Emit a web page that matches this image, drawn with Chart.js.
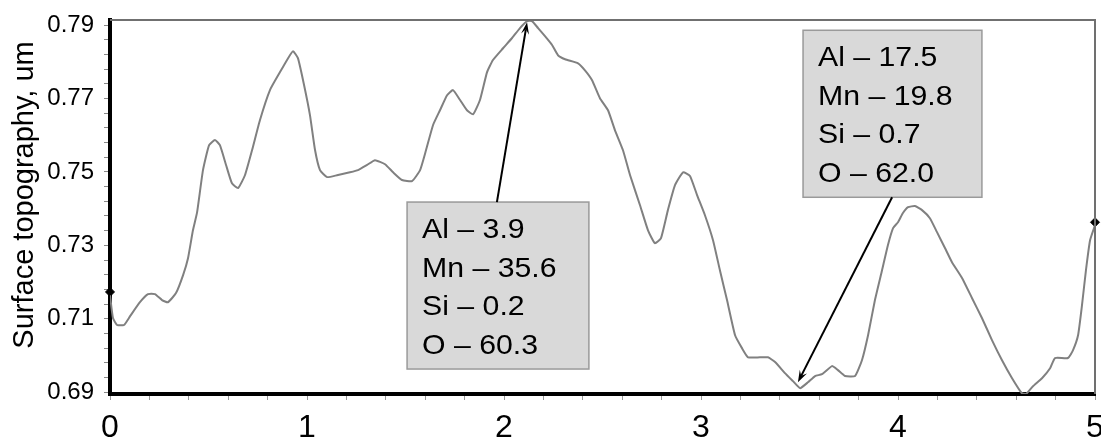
<!DOCTYPE html>
<html>
<head>
<meta charset="utf-8">
<title>Surface topography</title>
<script src="https://cdn.jsdelivr.net/npm/chart.js@4.4.1/dist/chart.umd.min.js"></script>
<style>
    body { margin: 0; background: #fff; }
    canvas { display: block; }
</style>
</head>
<body>
<canvas id="chartTopo" width="1101" height="437"></canvas>
<script>
// profile: position along the scan and surface height (um)
var posX = [0, 0.015, 0.036, 0.071, 0.102, 0.152, 0.193, 0.228, 0.264, 0.294,
    0.335, 0.371, 0.396, 0.421, 0.442, 0.472, 0.503, 0.533, 0.558, 0.589,
    0.619, 0.650, 0.685, 0.721, 0.761, 0.812, 0.863, 0.904, 0.929, 0.954,
    0.985, 1.015, 1.041, 1.066, 1.102, 1.152, 1.218, 1.259, 1.305, 1.345,
    1.396, 1.437, 1.482, 1.533, 1.574, 1.604, 1.640, 1.675, 1.711, 1.741,
    1.777, 1.812, 1.843, 1.878, 1.914, 1.944, 1.995, 2.041, 2.081, 2.117,
    2.142, 2.173, 2.208, 2.244, 2.274, 2.310, 2.376, 2.411, 2.447, 2.487,
    2.528, 2.563, 2.604, 2.640, 2.690, 2.731, 2.766, 2.797, 2.832, 2.868,
    2.909, 2.944, 2.980, 3.020, 3.061, 3.096, 3.132, 3.173, 3.208, 3.239,
    3.299, 3.340, 3.376, 3.426, 3.467, 3.503, 3.543, 3.579, 3.614, 3.665,
    3.695, 3.731, 3.782, 3.817, 3.848, 3.883, 3.919, 3.949, 3.975, 4.000,
    4.025, 4.051, 4.086, 4.122, 4.162, 4.198, 4.239, 4.274, 4.325, 4.376,
    4.426, 4.477, 4.528, 4.579, 4.629, 4.650, 4.685, 4.731, 4.772, 4.797,
    4.863, 4.888, 4.914, 4.934, 4.954, 4.975, 5.000];
var height = [0.7164, 0.7102, 0.7083, 0.7083, 0.7107, 0.7145, 0.7167, 0.7167, 0.7151, 0.7145,
    0.7170, 0.7219, 0.7265, 0.7341, 0.7390, 0.7505, 0.7573, 0.7587, 0.7573, 0.7519,
    0.7469, 0.7456, 0.7491, 0.7559, 0.7641, 0.7723, 0.7772, 0.7810, 0.7829, 0.7810,
    0.7737, 0.7655, 0.7559, 0.7505, 0.7486, 0.7491, 0.7499, 0.7505, 0.7519, 0.7532,
    0.7521, 0.7499, 0.7478, 0.7475, 0.7505, 0.7559, 0.7628, 0.7668, 0.7709, 0.7723,
    0.7696, 0.7668, 0.7657, 0.7696, 0.7772, 0.7805, 0.7837, 0.7865, 0.7892, 0.7911,
    0.7911, 0.7892, 0.7870, 0.7846, 0.7818, 0.7807, 0.7796, 0.7777, 0.7750, 0.7701,
    0.7668, 0.7614, 0.7559, 0.7491, 0.7410, 0.7341, 0.7306, 0.7320, 0.7396, 0.7464,
    0.7499, 0.7489, 0.7437, 0.7382, 0.7314, 0.7232, 0.7151, 0.7055, 0.7020, 0.6995,
    0.6995, 0.6995, 0.6982, 0.6952, 0.6930, 0.6911, 0.6927, 0.6944, 0.6949, 0.6971,
    0.6960, 0.6944, 0.6944, 0.6987, 0.7055, 0.7151, 0.7232, 0.7301, 0.7347, 0.7363,
    0.7388, 0.7404, 0.7407, 0.7396, 0.7374, 0.7336, 0.7292, 0.7254, 0.7211, 0.7156,
    0.7102, 0.7042, 0.6987, 0.6938, 0.6897, 0.6895, 0.6916, 0.6938, 0.6965, 0.6993,
    0.6993, 0.7014, 0.7055, 0.7137, 0.7232, 0.7314, 0.7355];

// end markers on the two axes
var endX = [0, 5];
var endY = [0.7173, 0.7363];

var xLabels = [0, 1, 2, 3, 4, 5];
var yLabels = [0.69, 0.71, 0.73, 0.75, 0.77, 0.79];
var yTitle = 'Surface topography, um';

var box1Lines = ['Al – 3.9', 'Mn – 35.6', 'Si – 0.2', 'O – 60.3'];
var box2Lines = ['Al – 17.5', 'Mn – 19.8', 'Si – 0.7', 'O – 62.0'];

// callouts in data units: box corners, arrow from box edge to the point
var notes = [
    { lines: box1Lines, x0: 1.508, x1: 2.431, y0: 0.7418, y1: 0.6963, from: [1.964, 0.7418], to: [2.117, 0.7908] },
    { lines: box2Lines, x0: 3.518, x1: 4.426, y0: 0.7886, y1: 0.7431, from: [3.970, 0.7431], to: [3.492, 0.6927] }
];

var FONT = '"Liberation Sans", Arial, sans-serif';

var xTickVals = [];
for (var i = 0; i <= 25; i++) xTickVals.push(+(i * 0.2).toFixed(1));
var yTickVals = [];
for (i = 0; i <= 25; i++) yTickVals.push(+(0.69 + i * 0.004).toFixed(3));

function isLabel(list, v) {
    for (var k = 0; k < list.length; k++) {
        if (Math.abs(list[k] - v) < 1e-6) return true;
    }
    return false;
}

function drawArrow(ctx, fx, fy, tx, ty) {
    var ang = Math.atan2(ty - fy, tx - fx);
    var len = 12, w = 4;
    ctx.strokeStyle = '#000';
    ctx.fillStyle = '#000';
    ctx.lineWidth = 2;
    ctx.beginPath();
    ctx.moveTo(fx, fy);
    ctx.lineTo(tx - Math.cos(ang) * len * 0.6, ty - Math.sin(ang) * len * 0.6);
    ctx.stroke();
    ctx.beginPath();
    ctx.moveTo(tx, ty);
    ctx.lineTo(tx - Math.cos(ang) * len - Math.sin(ang) * w, ty - Math.sin(ang) * len + Math.cos(ang) * w);
    ctx.lineTo(tx - Math.cos(ang) * len * 0.6, ty - Math.sin(ang) * len * 0.6);
    ctx.lineTo(tx - Math.cos(ang) * len + Math.sin(ang) * w, ty - Math.sin(ang) * len - Math.cos(ang) * w);
    ctx.closePath();
    ctx.fill();
}

var notesPlugin = {
    id: 'notes',
    afterDatasetsDraw: function(chart) {
        var ctx = chart.ctx;
        var xs = chart.scales.x, ys = chart.scales.y;
        var a = chart.chartArea;
        ctx.save();
        // grey frame on top and right
        ctx.strokeStyle = '#707070';
        ctx.lineWidth = 2;
        ctx.beginPath();
        ctx.moveTo(a.left, a.top);
        ctx.lineTo(a.right, a.top);
        ctx.lineTo(a.right, a.bottom);
        ctx.stroke();

        notes.forEach(function(n) {
            var l = xs.getPixelForValue(n.x0), r = xs.getPixelForValue(n.x1);
            var t = ys.getPixelForValue(n.y0), b = ys.getPixelForValue(n.y1);
            ctx.fillStyle = '#d9d9d9';
            ctx.fillRect(l, t, r - l, b - t);
            ctx.strokeStyle = '#9a9a9a';
            ctx.lineWidth = 1.5;
            ctx.strokeRect(l, t, r - l, b - t);

            ctx.fillStyle = '#000';
            ctx.font = '28px ' + FONT;
            ctx.textBaseline = 'alphabetic';
            ctx.textAlign = 'left';
            n.lines.forEach(function(s, j) {
                ctx.save();
                ctx.translate(l + 15, t + 36 + j * 38.5);
                ctx.scale(1.08, 1);
                ctx.fillText(s, 0, 0);
                ctx.restore();
            });

            drawArrow(ctx,
                xs.getPixelForValue(n.from[0]), ys.getPixelForValue(n.from[1]),
                xs.getPixelForValue(n.to[0]), ys.getPixelForValue(n.to[1]));
        });

        // y axis title, sits a little above the middle of the axis
        ctx.save();
        ctx.translate(25, (a.top + a.bottom) / 2 - 12);
        ctx.rotate(-Math.PI / 2);
        ctx.fillStyle = '#000';
        ctx.font = '29px ' + FONT;
        ctx.textAlign = 'center';
        ctx.textBaseline = 'middle';
        ctx.fillText(yTitle, 0, 0);
        ctx.restore();

        ctx.restore();
    }
};

var pts = posX.map(function(x, k) { return { x: x, y: height[k] }; });
var ends = endX.map(function(x, k) { return { x: x, y: endY[k] }; });

var ctx = document.getElementById('chartTopo').getContext('2d');
var chart = new Chart(ctx, {
    type: 'scatter',
    data: {
        datasets: [{
            data: pts,
            showLine: true,
            borderColor: '#808080',
            borderWidth: 2,
            pointRadius: 0,
            tension: 0.15
        }, {
            data: ends,
            showLine: false,
            clip: false,
            pointStyle: 'rectRot',
            pointRadius: 4.5,
            backgroundColor: '#000',
            borderColor: '#000',
            borderWidth: 1
        }]
    },
    options: {
        responsive: false,
        animation: false,
        devicePixelRatio: 1,
        layout: { padding: { left: 0, top: 20, right: 6, bottom: 0 } },
        plugins: {
            legend: { display: false },
            tooltip: { enabled: false }
        },
        scales: {
            x: {
                type: 'linear',
                min: 0,
                max: 5,
                border: { color: '#000', width: 4 },
                grid: { drawOnChartArea: false, drawTicks: true, tickLength: 6, color: '#999' },
                afterBuildTicks: function(scale) {
                    scale.ticks = xTickVals.map(function(v) { return { value: v }; });
                },
                afterFit: function(scale) {
                    scale.height = 43;
                    scale.paddingLeft = 0;
                    scale.paddingRight = 0;
                },
                ticks: {
                    autoSkip: false,
                    maxRotation: 0,
                    padding: 9,
                    color: '#000',
                    font: { family: FONT, size: 32 },
                    callback: function(v) { return isLabel(xLabels, v) ? String(Math.round(v)) : ''; }
                }
            },
            y: {
                type: 'linear',
                min: 0.6895,
                max: 0.7914,
                border: { color: '#000', width: 4 },
                grid: { drawOnChartArea: false, drawTicks: true, tickLength: 6, color: '#888' },
                afterBuildTicks: function(scale) {
                    scale.ticks = yTickVals.map(function(v) { return { value: v }; });
                },
                afterFit: function(scale) {
                    scale.width = 110;
                    scale.paddingTop = 0;
                    scale.paddingBottom = 0;
                },
                ticks: {
                    autoSkip: false,
                    padding: 10,
                    color: '#000',
                    font: { family: FONT, size: 24 },
                    callback: function(v) { return isLabel(yLabels, v) ? v.toFixed(2) : ''; }
                }
            }
        }
    },
    plugins: [notesPlugin]
});
</script>
</body>
</html>
